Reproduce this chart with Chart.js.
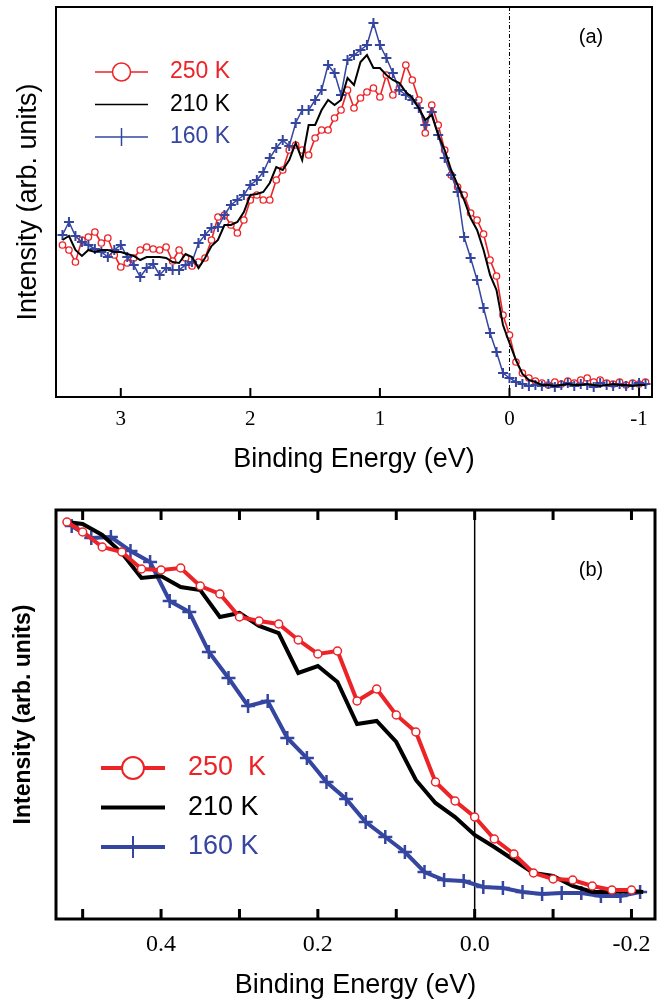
<!DOCTYPE html>
<html>
<head>
<meta charset="utf-8">
<script src="https://cdn.jsdelivr.net/npm/chart.js@4.4.1/dist/chart.umd.min.js"></script>
<style>
  html, body { margin: 0; padding: 0; background: #fff; }
  #wrapA { position: absolute; left: 0; top: 0; width: 668px; height: 490px; }
  #wrapB { position: absolute; left: 0; top: 490px; width: 668px; height: 515px; }
</style>
</head>
<body>
<div id="wrapA"><canvas id="chartA" width="668" height="490"></canvas></div>
<div id="wrapB"><canvas id="chartB" width="668" height="515"></canvas></div>
<script>
// (a) wide scan, binding energy in eV, intensity in arb. units
var energyA = [3.45, 3.40, 3.35, 3.30, 3.25, 3.20, 3.15, 3.10, 3.05, 3.00,
               2.95, 2.90, 2.85, 2.80, 2.75, 2.70, 2.65, 2.60, 2.55, 2.50,
               2.45, 2.40, 2.35, 2.30, 2.25, 2.20, 2.15, 2.10, 2.05, 2.00,
               1.95, 1.90, 1.85, 1.80, 1.75, 1.70, 1.65, 1.60, 1.55, 1.50,
               1.45, 1.40, 1.35, 1.30, 1.25, 1.20, 1.15, 1.10, 1.05, 1.00,
               0.95, 0.90, 0.85, 0.80, 0.75, 0.70, 0.65, 0.60, 0.55, 0.50,
               0.45, 0.40, 0.35, 0.30, 0.25, 0.20, 0.15, 0.10, 0.05, 0.00,
               -0.05, -0.10, -0.15, -0.20, -0.25, -0.30, -0.35, -0.40, -0.45, -0.50,
               -0.55, -0.60, -0.65, -0.70, -0.75, -0.80, -0.85, -0.90, -0.95, -1.00, -1.05];
var int250A = [152, 147, 135, 157, 160, 165, 154, 159, 142, 130,
               134, 139, 147, 150, 148, 147, 150, 136, 147, 139,
               131, 135, 139, 157, 180, 182, 172, 164, 177, 197,
               202, 197, 197, 217, 227, 247, 252, 247, 242, 259,
               267, 267, 279, 287, 307, 289, 299, 305, 309, 300,
               322, 302, 309, 332, 317, 297, 264, 292, 272, 247,
               222, 210, 202, 184, 177, 163, 137, 121, 82, 62,
               35, 24, 19, 16, 14, 12, 15, 13, 16, 14,
               17, 19, 15, 17, 14, 13, 15, 12, 14, 13, 15];
var int210A = [157, 161, 147, 141, 147, 145, 147, 147, 145, 145,
               143, 141, 137, 140, 140, 140, 139, 135, 134, 143,
               140, 129, 139, 151, 157, 172, 172, 175, 185, 202,
               203, 205, 214, 230, 227, 237, 254, 237, 272, 272,
               287, 297, 292, 297, 319, 312, 335, 342, 329, 329,
               322, 317, 314, 305, 299, 289, 277, 282, 262, 247,
               227, 212, 197, 179, 167, 147, 122, 107, 72, 54,
               37, 23, 17, 15, 12, 12, 11, 12, 13, 12,
               12, 13, 12, 11, 12, 13, 12, 12, 11, 12, 12];
var int160A = [162, 175, 161, 155, 152, 148, 145, 140, 147, 152,
               140, 132, 120, 129, 133, 122, 129, 127, 127, 132,
               135, 154, 162, 169, 170, 182, 192, 197, 202, 212,
               217, 225, 239, 249, 257, 251, 274, 287, 287, 297,
               307, 332, 324, 302, 337, 342, 347, 352, 374, 352,
               339, 324, 307, 302, 297, 289, 272, 285, 262, 239,
               222, 205, 160, 139, 117, 89, 64, 45, 24, 19,
               15, 13, 11, 12, 11, 13, 10, 12, 14, 11,
               13, 12, 10, 14, 12, 11, 13, 11, 12, 14, 13];

// (b) close-up of the edge
var energyB250 = [0.52, 0.5, 0.475, 0.45, 0.425, 0.4, 0.375, 0.35, 0.325, 0.3,
                  0.275, 0.25, 0.225, 0.2, 0.175, 0.15, 0.125, 0.1, 0.075, 0.05,
                  0.025, 0, -0.025, -0.05, -0.075, -0.1, -0.125, -0.15, -0.175, -0.2];
var int250B = [397, 387, 372, 367, 350, 349, 351, 333, 325, 302,
               298, 295, 279, 265, 268, 218, 230, 204, 187, 137,
               118, 102, 80, 65, 46, 40, 39, 33, 29, 29];
var energyB210 = [0.52, 0.5, 0.475, 0.45, 0.425, 0.4, 0.375, 0.35, 0.325, 0.3,
                  0.275, 0.25, 0.225, 0.2, 0.175, 0.15, 0.125, 0.1, 0.075, 0.05,
                  0.025, 0, -0.025, -0.05, -0.075, -0.1, -0.125, -0.15, -0.175, -0.2, -0.215];
var int210B = [397, 395, 384, 366, 341, 343, 332, 329, 302, 306,
               293, 286, 246, 253, 237, 195, 198, 177, 139, 116,
               102, 84, 72, 59, 46, 43, 33, 27, 27, 28, 27];
var energyB160 = [0.514, 0.489, 0.464, 0.439, 0.414, 0.389, 0.364, 0.339, 0.314, 0.289,
                  0.264, 0.239, 0.214, 0.189, 0.164, 0.139, 0.114, 0.089, 0.064, 0.039,
                  0.014, -0.011, -0.036, -0.061, -0.086, -0.111, -0.136, -0.161, -0.186, -0.211];
var int160B = [393, 381, 382, 368, 357, 318, 307, 267, 241, 213,
               218, 181, 161, 137, 120, 97, 82, 67, 47, 39,
               38, 32, 31, 27, 25, 26, 26, 23, 23, 27];

var labelsB = [0.4, 0.2, 0.0, -0.2];   // ticks every 0.1, only these get a label

var RED = '#ec2327', BLUE = '#3546a0', BLACK = '#000';
var SANS = '"Liberation Sans", Arial, sans-serif';
var SERIF = '"Liberation Serif", "Times New Roman", serif';

Chart.defaults.font.family = SANS;
Chart.defaults.color = '#000';
Chart.defaults.animation = false;

function pts(xs, ys) {
    return xs.map(function (x, i) { return { x: x, y: ys[i] }; });
}

// frame, inward ticks, zero line, in-plot legend and panel letter
var panelPlugin = {
    id: 'panel',
    beforeDatasetsDraw: function (chart, args, o) {
        var ctx = chart.ctx, a = chart.chartArea, xs = chart.scales.x;
        var x0 = xs.getPixelForValue(0);
        ctx.save();
        ctx.strokeStyle = '#000';
        ctx.lineWidth = o.zeroWidth;
        ctx.setLineDash(o.zeroDash);
        ctx.beginPath();
        ctx.moveTo(x0, a.top);
        ctx.lineTo(x0, a.bottom);
        ctx.stroke();
        ctx.restore();
    },
    afterDatasetsDraw: function (chart, args, o) {
        var ctx = chart.ctx, a = chart.chartArea, xs = chart.scales.x;
        ctx.save();
        ctx.strokeStyle = '#000';
        ctx.lineWidth = o.tickWidth;
        xs.ticks.forEach(function (t) {
            var px = xs.getPixelForValue(t.value);
            ctx.beginPath();
            ctx.moveTo(px, a.bottom);
            ctx.lineTo(px, a.bottom - o.tickLen);
            if (o.topTicks) {
                ctx.moveTo(px, a.top);
                ctx.lineTo(px, a.top + o.tickLen);
            }
            ctx.stroke();
        });
        ctx.lineWidth = o.frameWidth;
        ctx.strokeRect(a.left, a.top, a.right - a.left, a.bottom - a.top);

        // legend
        var L = o.legend;
        L.items.forEach(function (it, i) {
            var y = L.y + i * L.gap;
            var xm = (L.x1 + L.x2) / 2;
            ctx.strokeStyle = it.color;
            ctx.lineWidth = L.lineWidth;
            ctx.beginPath();
            ctx.moveTo(L.x1, y);
            ctx.lineTo(L.x2, y);
            ctx.stroke();
            if (it.marker === 'circle') {
                ctx.fillStyle = '#fff';
                ctx.lineWidth = L.markerWidth;
                ctx.beginPath();
                ctx.arc(xm, y, L.size, 0, Math.PI * 2);
                ctx.fill();
                ctx.stroke();
            } else if (it.marker === 'cross') {
                ctx.lineWidth = L.markerWidth;
                ctx.beginPath();
                ctx.moveTo(xm, y - L.size);
                ctx.lineTo(xm, y + L.size);
                ctx.stroke();
            }
            ctx.fillStyle = it.color;
            ctx.font = L.font;
            ctx.textAlign = 'left';
            ctx.textBaseline = 'middle';
            ctx.fillText(it.text, L.tx, y);
        });

        ctx.fillStyle = '#000';
        ctx.font = o.tag.font;
        ctx.textAlign = 'center';
        ctx.textBaseline = 'middle';
        ctx.fillText(o.tag.text, o.tag.x, o.tag.y);
        ctx.restore();
    }
};

// ---------- panel (a) ----------
new Chart(document.getElementById('chartA'), {
    type: 'scatter',
    data: {
        datasets: [{
            label: '210 K',
            data: pts(energyA, int210A),
            showLine: true,
            borderColor: BLACK,
            borderWidth: 2,
            pointRadius: 0,
            order: 0
        }, {
            label: '160 K',
            data: pts(energyA, int160A),
            showLine: true,
            borderColor: BLUE,
            borderWidth: 1.5,
            pointStyle: 'cross',
            pointRadius: 5,
            pointBorderColor: BLUE,
            pointBorderWidth: 2,
            order: 1
        }, {
            label: '250 K',
            data: pts(energyA, int250A),
            showLine: true,
            borderColor: RED,
            borderWidth: 1.6,
            pointStyle: 'circle',
            pointRadius: 3.2,
            pointBackgroundColor: '#fff',
            pointBorderColor: RED,
            pointBorderWidth: 1.3,
            order: 2
        }]
    },
    options: {
        responsive: false,
        layout: { padding: { left: 0, top: 7, right: 16, bottom: 0 } },
        scales: {
            x: {
                type: 'linear',
                reverse: true,
                min: -1.1,
                max: 3.5,
                grid: { display: false, drawTicks: false },
                border: { display: false },
                ticks: {
                    stepSize: 1,
                    includeBounds: false,
                    autoSkip: false,
                    maxRotation: 0,
                    padding: 10,
                    font: { family: SERIF, size: 21 },
                    callback: function (v) { return String(Math.round(v)); }
                },
                title: {
                    display: true,
                    text: 'Binding Energy (eV)',
                    font: { size: 27 },
                    padding: { top: 0, bottom: 14 }
                },
                afterFit: function (s) { s.height = 93; }
            },
            y: {
                min: 0,
                max: 390,
                grid: { display: false, drawTicks: false },
                border: { display: false },
                ticks: { display: false },
                title: {
                    display: true,
                    text: 'Intensity (arb. units)',
                    font: { size: 27 },
                    padding: { top: 12, bottom: 0 }
                },
                afterFit: function (s) { s.width = 56; }
            }
        },
        plugins: {
            legend: { display: false },
            tooltip: { enabled: false },
            panel: {
                zeroWidth: 1,
                zeroDash: [4, 2, 1, 2],
                tickWidth: 2,
                tickLen: 9,
                topTicks: false,
                frameWidth: 2,
                legend: {
                    x1: 95, x2: 148, tx: 170, y: 72, gap: 32.5,
                    lineWidth: 1.5, markerWidth: 1.5, size: 9,
                    font: '23px ' + SANS,
                    items: [
                        { text: '250 K', color: RED, marker: 'circle' },
                        { text: '210 K', color: BLACK, marker: 'none' },
                        { text: '160 K', color: BLUE, marker: 'cross' }
                    ]
                },
                tag: { text: '(a)', x: 591, y: 37, font: '20px ' + SANS }
            }
        }
    },
    plugins: [panelPlugin]
});

// ---------- panel (b) ----------
new Chart(document.getElementById('chartB'), {
    type: 'scatter',
    data: {
        datasets: [{
            label: '250 K',
            data: pts(energyB250, int250B),
            showLine: true,
            borderColor: RED,
            borderWidth: 4,
            pointStyle: 'circle',
            pointRadius: 4,
            pointBackgroundColor: '#fff',
            pointBorderColor: RED,
            pointBorderWidth: 1.5,
            order: 0
        }, {
            label: '210 K',
            data: pts(energyB210, int210B),
            showLine: true,
            borderColor: BLACK,
            borderWidth: 4,
            pointRadius: 0,
            order: 1
        }, {
            label: '160 K',
            data: pts(energyB160, int160B),
            showLine: true,
            borderColor: BLUE,
            borderWidth: 4,
            pointStyle: 'cross',
            pointRadius: 7,
            pointBorderColor: BLUE,
            pointBorderWidth: 2.5,
            order: 2
        }]
    },
    options: {
        responsive: false,
        layout: { padding: { left: 0, top: 20, right: 13, bottom: 0 } },
        scales: {
            x: {
                type: 'linear',
                reverse: true,
                min: -0.23,
                max: 0.534,
                grid: { display: false, drawTicks: false },
                border: { display: false },
                ticks: {
                    stepSize: 0.1,
                    includeBounds: false,
                    autoSkip: false,
                    maxRotation: 0,
                    padding: 11,
                    font: { family: SERIF, size: 24 },
                    callback: function (v) {
                        var r = Math.round(v * 10) / 10;
                        for (var i = 0; i < labelsB.length; i++) {
                            if (Math.abs(labelsB[i] - r) < 1e-6) return (r === 0 ? 0 : r).toFixed(1);
                        }
                        return '';
                    }
                },
                title: {
                    display: true,
                    text: 'Binding Energy (eV)',
                    font: { size: 27 },
                    padding: { top: 0, bottom: 3 }
                },
                afterFit: function (s) { s.height = 86; }
            },
            y: {
                min: 0,
                max: 409,
                grid: { display: false, drawTicks: false },
                border: { display: false },
                ticks: { display: false },
                title: {
                    display: true,
                    text: 'Intensity (arb. units)',
                    font: { size: 23, weight: 'bold' },
                    padding: { top: 10, bottom: 0 }
                },
                afterFit: function (s) { s.width = 56; }
            }
        },
        plugins: {
            legend: { display: false },
            tooltip: { enabled: false },
            panel: {
                zeroWidth: 1.5,
                zeroDash: [],
                tickWidth: 3,
                tickLen: 10,
                topTicks: true,
                frameWidth: 3,
                legend: {
                    x1: 101, x2: 165, tx: 188, y: 278, gap: 39.5,
                    lineWidth: 4, markerWidth: 2, size: 11,
                    font: '27px ' + SANS,
                    items: [
                        { text: '250  K', color: RED, marker: 'circle' },
                        { text: '210 K', color: BLACK, marker: 'none' },
                        { text: '160 K', color: BLUE, marker: 'cross' }
                    ]
                },
                tag: { text: '(b)', x: 591, y: 80, font: '20px ' + SANS }
            }
        }
    },
    plugins: [panelPlugin]
});
</script>
</body>
</html>
